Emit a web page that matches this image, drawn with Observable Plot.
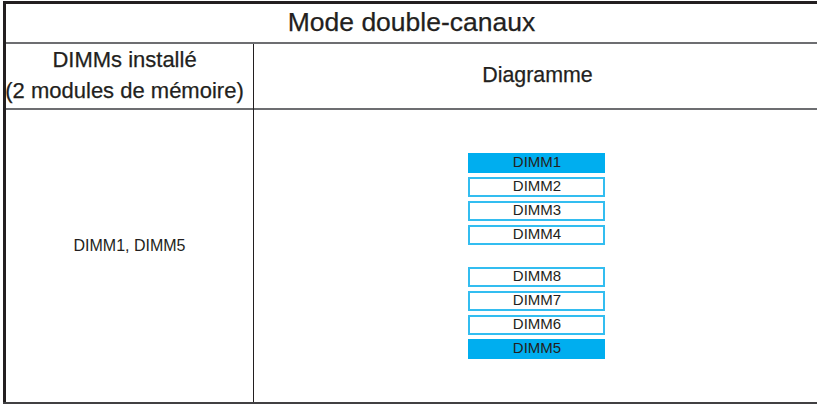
<!DOCTYPE html>
<html>
<head>
<meta charset="utf-8">
<script src="https://cdn.jsdelivr.net/npm/d3@7"></script>
<script src="https://cdn.jsdelivr.net/npm/@observablehq/plot@0.6"></script>
<style>
  html, body { margin: 0; padding: 0; background: #fff; }
  #page { position: relative; width: 817px; height: 404px; overflow: hidden; font-family: "Liberation Sans", Arial, sans-serif; color: #231f20; }
  .ln { position: absolute; }
  .txt { position: absolute; text-align: center; white-space: nowrap; -webkit-text-stroke: 0.25px #231f20; }
  #chart { position: absolute; left: 254px; top: 110px; }
</style>
</head>
<body>
<div id="page"></div>
<script>
// ---- data ----
const title = "Mode double-canaux";
const columnHeaders = ["DIMMs installé", "(2 modules de mémoire)", "Diagramme"];
const installed = ["DIMM1", "DIMM5"];
const slotNames = ["DIMM1", "DIMM2", "DIMM3", "DIMM4", "DIMM8", "DIMM7", "DIMM6", "DIMM5"];
const slotPositions = [0, 1, 2, 3, 4.75, 5.75, 6.75, 7.75];

const slots = slotNames.map((name, i) => ({name, pos: slotPositions[i], filled: installed.includes(name)}));

const page = document.getElementById("page");
function box(cls, css, text) {
  const d = document.createElement("div");
  d.className = cls;
  Object.assign(d.style, css);
  if (text !== undefined) d.textContent = text;
  page.appendChild(d);
  return d;
}
// table frame
box("ln", {left: "3px", top: "1px", width: "814px", height: "3px", background: "#231f20"});
box("ln", {left: "3px", top: "1px", width: "3px", height: "403px", background: "#231f20"});
box("ln", {left: "6px", top: "42px", width: "811px", height: "2px", background: "#6d6e71"});
box("ln", {left: "6px", top: "108px", width: "811px", height: "2px", background: "#6d6e71"});
box("ln", {left: "253px", top: "44px", width: "1px", height: "358px", background: "#231f20"});
box("ln", {left: "3px", top: "402px", width: "814px", height: "2px", background: "#414042"});

// texts
box("txt", {left: "6px", width: "811px", top: "9px", fontSize: "26.5px", lineHeight: "26.5px"}, title);
box("txt", {left: "2px", width: "245px", top: "49px", fontSize: "22px", lineHeight: "22px"}, columnHeaders[0]);
box("txt", {left: "2px", width: "245px", top: "80px", fontSize: "22px", lineHeight: "22px"}, columnHeaders[1]);
box("txt", {left: "256px", width: "563px", top: "65px", fontSize: "21.4px", lineHeight: "21.4px"}, columnHeaders[2]);
box("txt", {left: "6px", width: "247px", top: "238px", fontSize: "16px", lineHeight: "16px", webkitTextStroke: "0px"}, installed.join(", "));

// diagram
const chart = Plot.plot({
  width: 563,
  height: 292,
  margin: 0,
  x: {domain: [0, 1], range: [215, 350], axis: null},
  y: {domain: [0, 8.5], range: [44, 248], axis: null},
  marks: [
    Plot.rect(slots, {
      x1: () => 0, x2: () => 1,
      y1: "pos", y2: d => d.pos + 0.75,
      fill: d => d.filled ? "#00aeef" : "#ffffff",
      stroke: d => d.filled ? "#00aeef" : "#33bdf0",
      strokeWidth: 2,
      inset: 0
    }),
    Plot.text(slots, {
      x: () => 0.5, y: d => d.pos + 0.375,
      text: "name",
      fontSize: 15,
      fill: "#231f20",
      dy: -1,
      fontFamily: "Liberation Sans, Arial, sans-serif"
    })
  ]
});
chart.id = "chart";
page.appendChild(chart);
</script>
</body>
</html>
